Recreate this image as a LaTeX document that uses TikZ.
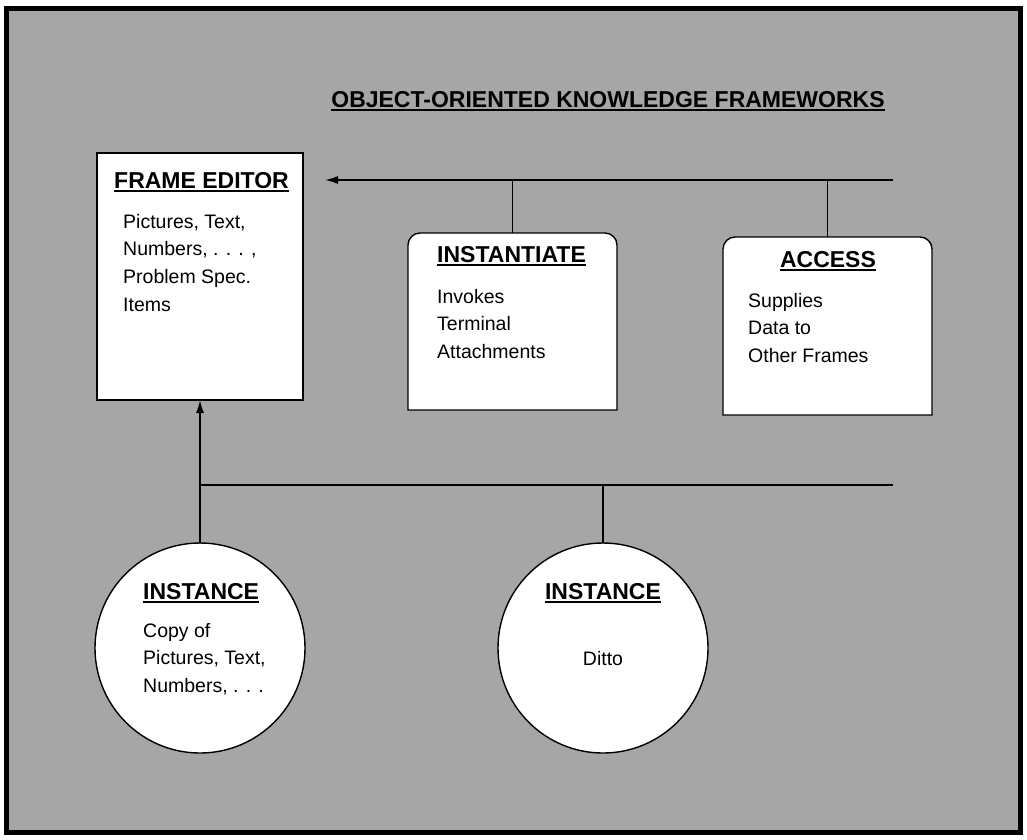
\documentclass[tikz,border=0pt]{standalone}
\usepackage{fontspec}
\setmainfont{Liberation Sans}
\usetikzlibrary{arrows.meta}
\newcommand\ulhead[1]{\setbox0\hbox{#1}\rlap{\rule[-3.5pt]{\wd0}{1.8pt}}\box0}
\tikzset{
  panel/.style={draw, line width=1.4pt, fill=white},
  head/.style={font=\fontsize{23}{27}\selectfont\bfseries, inner sep=0pt},
  body/.style={font=\fontsize{19.5}{27.6}\selectfont, align=left, inner sep=0pt, anchor=north west},
  link/.style={line width=1.7pt},
}
\begin{document}
\begin{tikzpicture}[x=1pt,y=-1pt]
  \useasboundingbox (0,0) rectangle (1027,839);
  \draw[line width=5pt, fill=black!35] (6,8.5) rectangle (1020,832);
  \node[font=\fontsize{23}{27}\selectfont\bfseries, inner sep=0pt, anchor=base] (title) at (608,107) {\ulhead{OBJECT-ORIENTED KNOWLEDGE FRAMEWORKS}};

  \node[panel, anchor=north west, minimum width=206pt, minimum height=247pt, inner sep=0pt, outer sep=0pt] (editor) at (97,153) {};
  \node[head, anchor=base west] (editorHead) at (114,188) {\ulhead{FRAME EDITOR}};
  \node[body] (editorText) at (123,214) {Pictures, Text,\\Numbers, . . . ,\\Problem Spec.\\Items};

  \node[anchor=north west, minimum width=209pt, minimum height=177pt, inner sep=0pt, outer sep=0pt] (inst) at (408,233) {};
  \path[panel] (inst.south west) [rounded corners=12pt] -- (inst.north west) -- (inst.north east) [sharp corners] -- (inst.south east) -- cycle;
  \node[head, anchor=base west] (instHead) at (437,262) {\ulhead{INSTANTIATE}};
  \node[body] (instText) at (437,289) {Invokes\\Terminal\\Attachments};

  \node[anchor=north west, minimum width=209pt, minimum height=178pt, inner sep=0pt, outer sep=0pt] (acc) at (723,237) {};
  \path[panel] (acc.south west) [rounded corners=12pt] -- (acc.north west) -- (acc.north east) [sharp corners] -- (acc.south east) -- cycle;
  \node[head, anchor=base] (accHead) at (828,267) {\ulhead{ACCESS}};
  \node[body] (accText) at (748,293) {Supplies\\Data to\\Other Frames};

  \node[panel, circle, minimum size=210pt, inner sep=0pt, outer sep=0pt] (case1) at (200,648) {};
  \node[head, anchor=base west] (case1Head) at (143,599) {\ulhead{INSTANCE}};
  \node[body] (case1Text) at (143,623) {Copy of\\Pictures, Text,\\Numbers, . . .};

  \node[panel, circle, minimum size=210pt, inner sep=0pt, outer sep=0pt] (case2) at (603,648) {};
  \node[head, anchor=base] (case2Head) at (603,599) {\ulhead{INSTANCE}};
  \node[font=\fontsize{19.5}{27.6}\selectfont, inner sep=0pt, anchor=base] (case2Text) at (603,665) {Ditto};

  \coordinate (busTop) at (893,180);
  \coordinate (busLow) at (893,485);
  \coordinate (editorIn) at (325,180);
  \draw[link, -{Latex[length=13pt,width=8pt]}] (busTop) -- (editorIn);
  \draw[link] (inst.north) -- (inst.north |- busTop);
  \draw[link] (acc.north) -- (acc.north |- busTop);
  \draw[link] (busLow) -- (busLow -| case1.north);
  \draw[link] (case2.north) -- (case2.north |- busLow);
  \draw[link, -{Latex[length=13pt,width=8pt]}] (case1.north) -- (editor.south);
\end{tikzpicture}
\end{document}
